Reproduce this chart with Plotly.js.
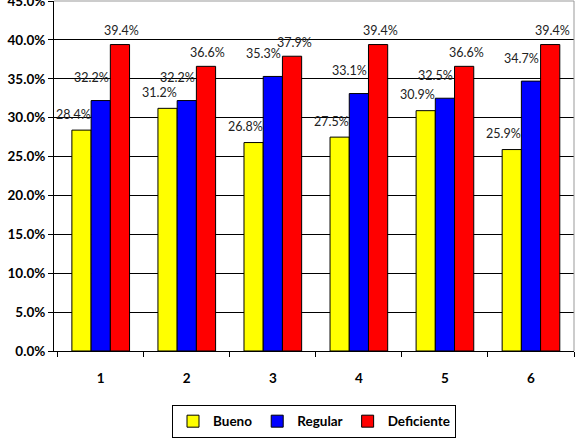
<!DOCTYPE html>
<html>
<head>
<meta charset="utf-8">
<script src="https://cdn.plot.ly/plotly-3.0.1.min.js"></script>
<style>
html,body{margin:0;padding:0;background:#fff;}
#chart{width:579px;height:439px;}
</style>
</head>
<body>
<div id="chart"></div>
<script>
const categories = ["1", "2", "3", "4", "5", "6"];
const bueno = [28.4, 31.2, 26.8, 27.5, 30.9, 25.9];
const regular = [32.2, 32.2, 35.3, 33.1, 32.5, 34.7];
const deficiente = [39.4, 36.6, 37.9, 39.4, 36.6, 39.4];
const seriesNames = ["Bueno", "Regular", "Deficiente"];
const tickVals = [0, 5, 10, 15, 20, 25, 30, 35, 40, 45];

const colors = ["#FFFF00", "#0000FF", "#FF0000"];
const allSeries = [bueno, regular, deficiente];
const bargap = 0.33;
const barW = (1 - bargap) / 3;
const labelDx = [-8, -9, 2];
const labelDy = [16, 23, 14];

const traces = allSeries.map((vals, s) => ({
  type: 'bar',
  name: seriesNames[s],
  x: categories,
  y: vals,
  marker: {color: colors[s], line: {color: '#000', width: 1}},
  hoverinfo: 'skip'
}));

const annotations = [];
allSeries.forEach((vals, s) => {
  vals.forEach((v, i) => {
    annotations.push({
      x: i + (s - 1) * barW,
      y: v,
      xref: 'x', yref: 'y',
      text: v.toFixed(1) + '%',
      showarrow: false,
      xshift: labelDx[s],
      yshift: labelDy[s],
      font: {family: 'Lato, sans-serif', size: 12.5, color: '#222'}
    });
  });
});

const layout = {
  width: 579, height: 439,
  margin: {l: 54, r: 5, t: 1, b: 88},
  paper_bgcolor: '#fff', plot_bgcolor: '#fff',
  barmode: 'group', bargap: bargap, bargroupgap: 0,
  font: {family: 'Lato, sans-serif', color: '#000'},
  xaxis: {
    type: 'category',
    showline: true, linecolor: '#000', linewidth: 1,
    ticks: 'outside', ticklen: 5, tickcolor: '#000',
    tickson: 'boundaries',
    ticklabelstandoff: 15,
    tickfont: {family: 'Lato, sans-serif', size: 13.5, weight: 'bold', color: '#000'},
    showgrid: false, zeroline: false
  },
  yaxis: {
    range: [0, 45],
    tickvals: tickVals,
    ticktext: tickVals.map(v => v.toFixed(1) + '%'),
    ticklabeloverflow: 'allow',
    showline: true, linecolor: '#000', linewidth: 1,
    ticks: 'outside', ticklen: 5, tickcolor: '#000',
    showgrid: true, gridcolor: '#000', gridwidth: 1,
    zeroline: false,
    tickfont: {family: 'Lato, sans-serif', size: 13.5, weight: 'bold', color: '#000'}
  },
  showlegend: true,
  legend: {
    orientation: 'h',
    x: 0.5, xanchor: 'center',
    y: -0.154, yanchor: 'top',
    bordercolor: '#000', borderwidth: 1,
    itemwidth: 30,
    font: {family: 'Lato, sans-serif', size: 13.5, weight: 'bold', color: '#000'}
  },
  shapes: [
    {type: 'line', xref: 'paper', yref: 'paper', x0: 0, x1: 1, y0: 1, y1: 1, line: {color: '#999', width: 1}},
    {type: 'line', xref: 'paper', yref: 'paper', x0: 1, x1: 1, y0: 0, y1: 1, line: {color: '#999', width: 1}}
  ],
  annotations: annotations
};

Plotly.newPlot('chart', traces, layout, {displayModeBar: false, staticPlot: true});
</script>
</body>
</html>
